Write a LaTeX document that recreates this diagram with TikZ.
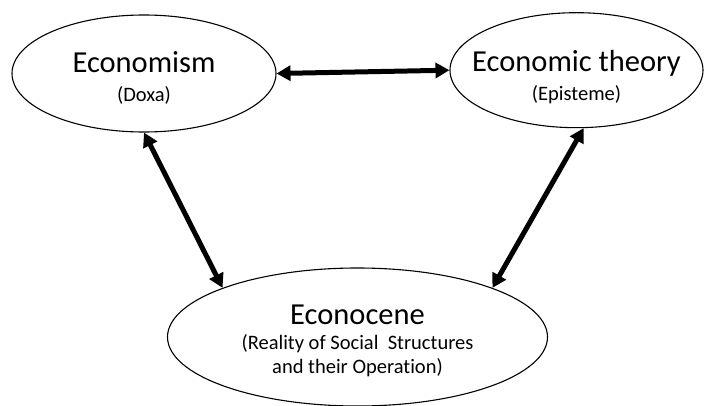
\documentclass[tikz,border=0pt]{standalone}
\usepackage{fontspec}
\setmainfont{Carlito}[Ligatures=NoCommon]
\usetikzlibrary{shapes.geometric,arrows.meta}

\begin{document}
\begin{tikzpicture}[x=1pt,y=-1pt,
  bubble/.style={ellipse, draw, line width=1.1pt, inner sep=0pt},
  words/.style={align=center, inner sep=0pt, font=\fontsize{20.5}{24}\selectfont},
  link/.style={{Triangle[length=14pt,width=15pt]}-{Triangle[length=14pt,width=15pt]},
    line width=5pt}]
  \useasboundingbox (0,0) rectangle (705,406);

  % Three ellipses, text set as centre labels
  \node[bubble, minimum width=264pt, minimum height=117pt,
    label={[words, yshift=-4.5pt]center:{{\fontsize{30.5}{36}\selectfont Economism}\\[5pt](Doxa)}}]
    (doxa) at (144,73.5) {};
  \node[bubble, minimum width=253pt, minimum height=115pt,
    label={[words, yshift=-7pt]center:{{\fontsize{30.5}{36}\selectfont Economic theory}\\[5pt](Episteme)}}]
    (episteme) at (576.5,70.2) {};
  \node[bubble, minimum width=380pt, minimum height=138pt,
    label={[words, yshift=-4pt]center:{{\fontsize{30.5}{36}\selectfont Econocene}\\[1pt](Reality of Social~ Structures\\and their Operation)}}]
    (econocene) at (357.5,337) {};

  % Two-way links
  \draw[link] (doxa.east) -- (episteme.west);
  \draw[link] (doxa.south) -- (econocene.160);
  \draw[link] (episteme.-83) -- (econocene.20);
\end{tikzpicture}
\end{document}
